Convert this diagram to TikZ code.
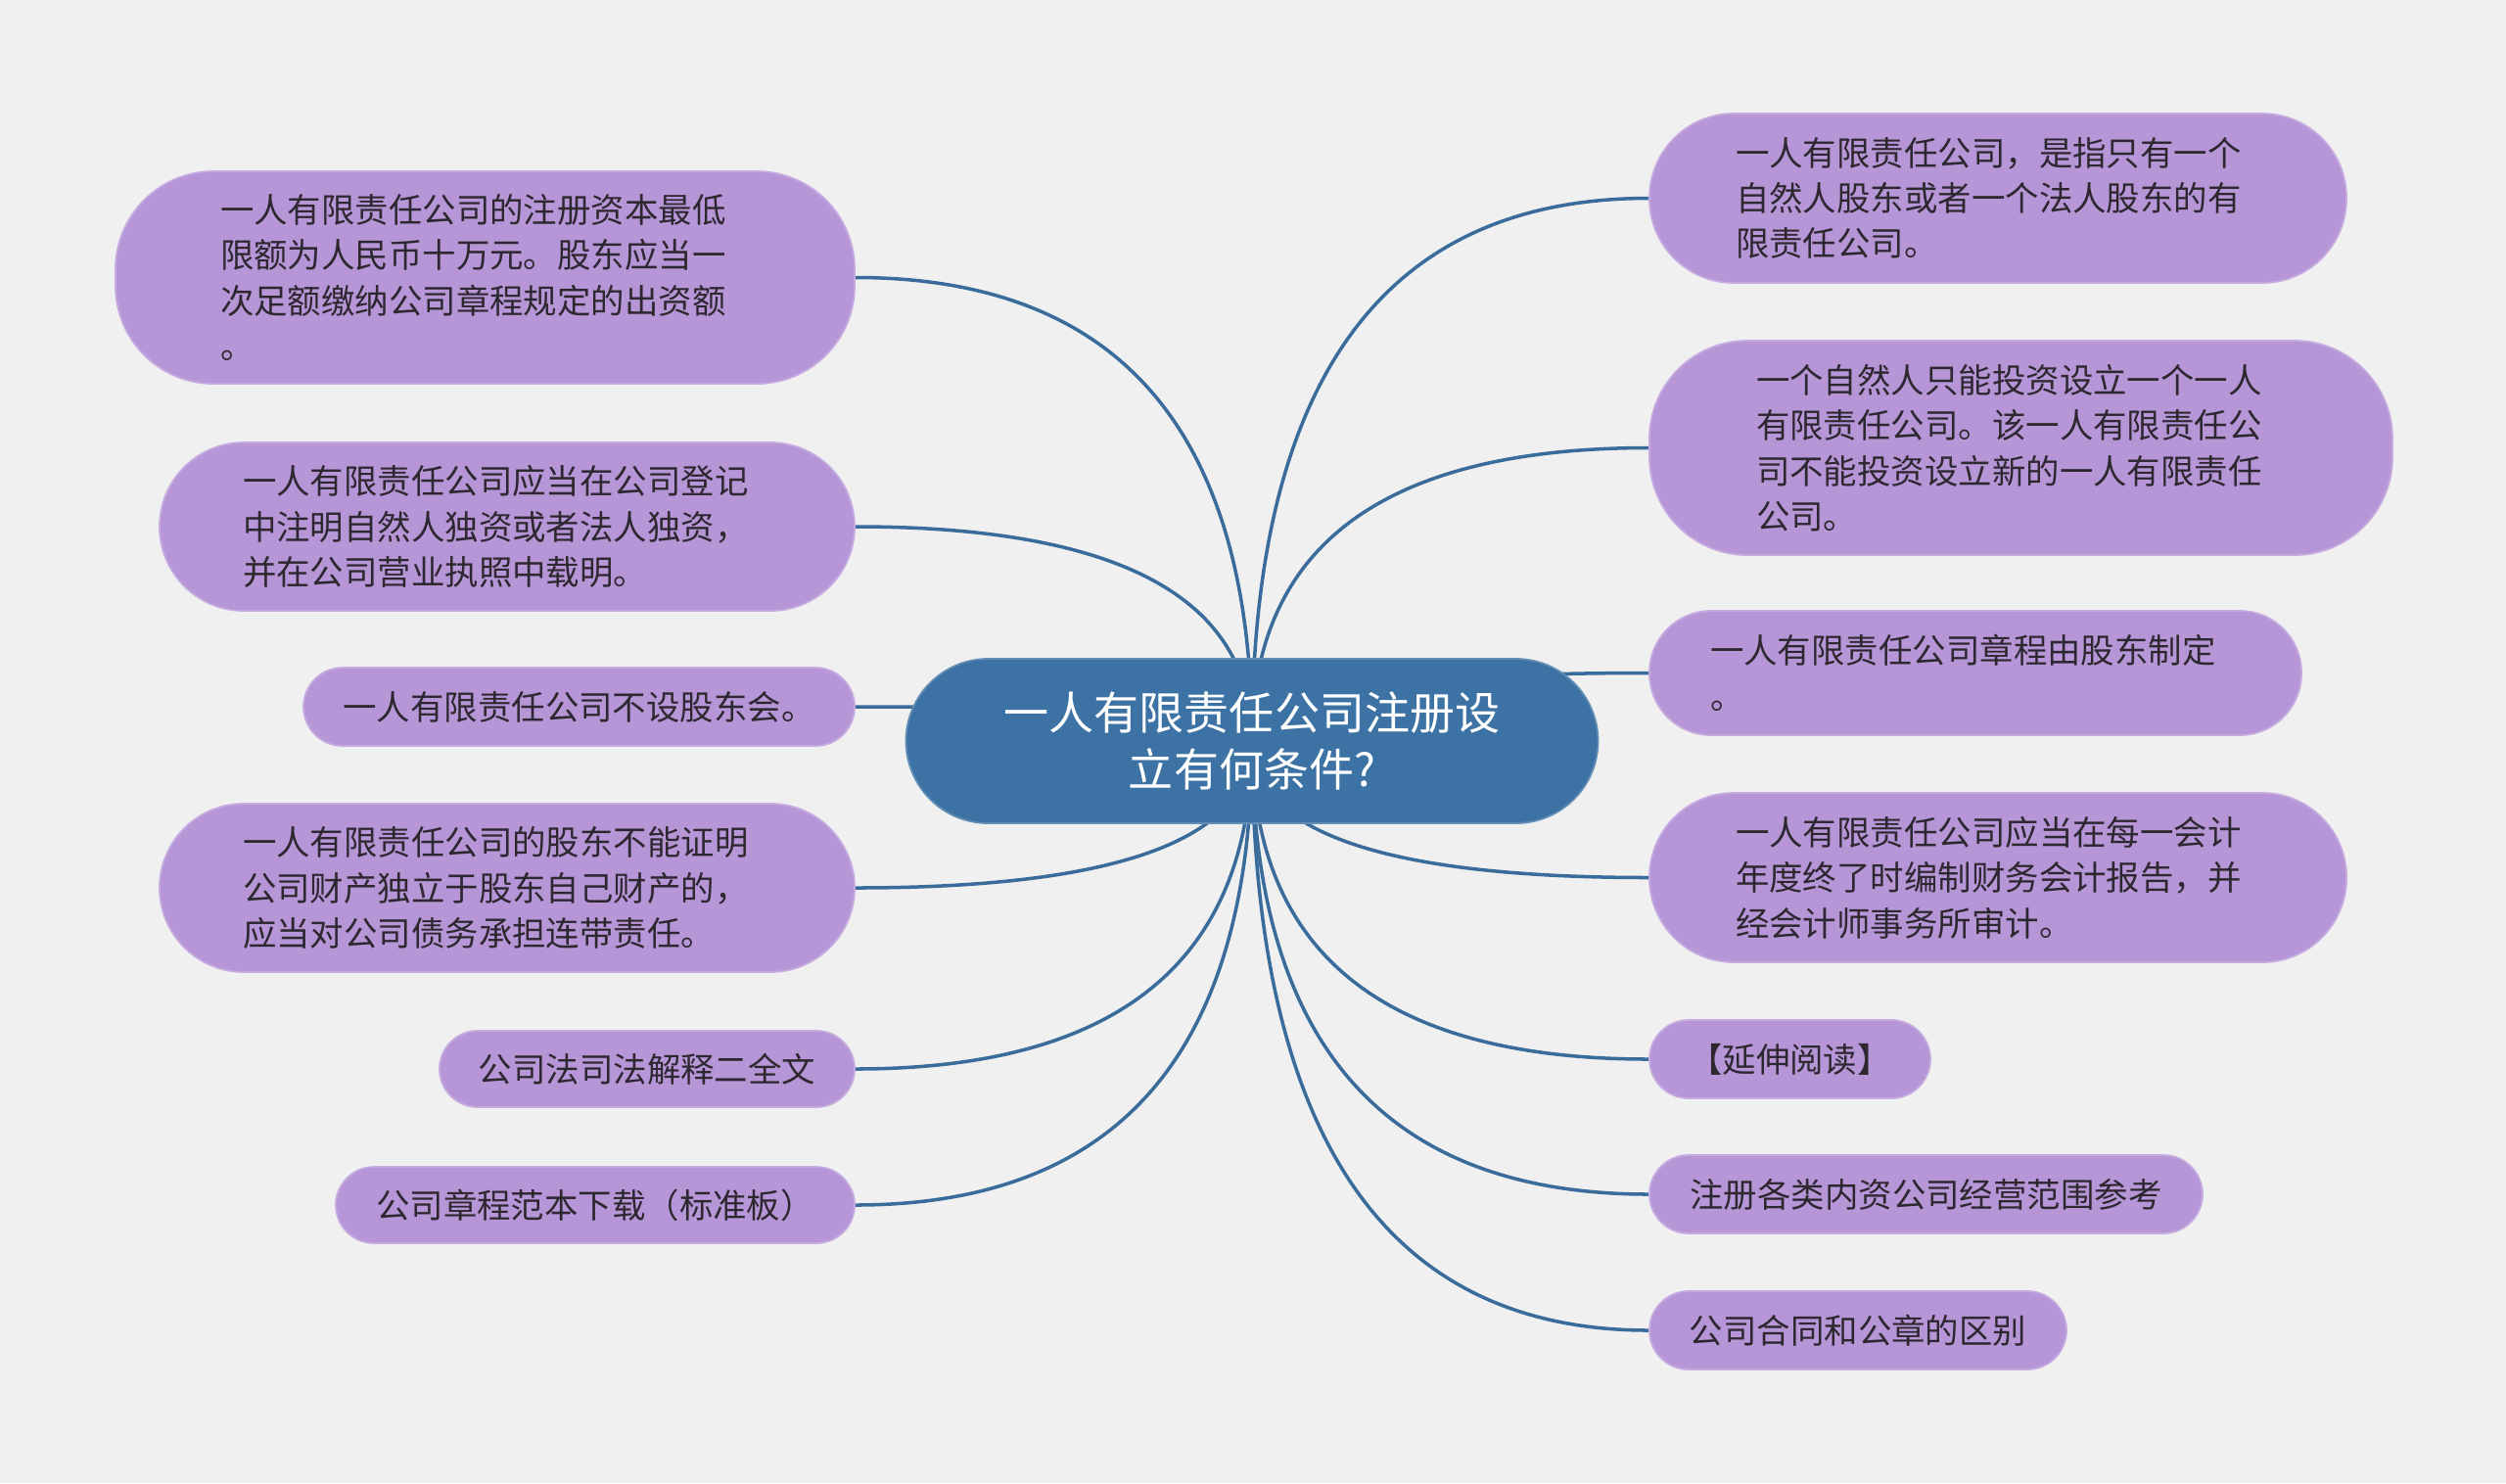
\documentclass[tikz,border=0pt]{standalone}
\usepackage{fontspec}
\newfontfamily\cjk{Noto Sans CJK SC}
\usetikzlibrary{positioning, calc, backgrounds}
\definecolor{bgc}{RGB}{240,240,240}
\definecolor{leaffill}{RGB}{183,150,216}
\definecolor{rootfill}{RGB}{60,114,164}
\definecolor{linkc}{RGB}{58,108,155}
\definecolor{inktext}{RGB}{45,40,48}

\begin{document}
\begin{tikzpicture}[
    leaf/.style={rectangle, rounded corners=#1, fill=leaffill, draw=leaffill!80!white,
                 line width=0.5pt, inner sep=0pt, text=inktext,
                 font={\cjk\fontsize{9.8pt}{13.2pt}\selectfont}},
    root/.style={rectangle, rounded corners=0.84cm, fill=rootfill, draw=rootfill!80!white,
                 line width=0.5pt, inner sep=0pt, text=white, align=center,
                 font={\cjk\fontsize{13.1pt}{16.7pt}\selectfont}},
    link/.style={draw=linkc, line width=1pt}]

    \useasboundingbox (0,0) rectangle (25.6,-15.15);

    % Centre
    \node[root, minimum width=7.07cm, minimum height=1.68cm] (root) at (12.79,-7.57)
        {一人有限责任公司注册设\\立有何条件?};

    % Left branches
    \node[leaf=1.0cm, minimum width=7.55cm, minimum height=2.17cm, text width=5.41cm, align=left] (l1) at (4.955,-2.835)
        {一人有限责任公司的注册资本最低\\限额为人民币十万元。股东应当一\\次足额缴纳公司章程规定的出资额\\。};
    \node[leaf=0.86cm, minimum width=7.10cm, minimum height=1.72cm, text width=5.40cm, align=left] (l2) at (5.18,-5.38)
        {一人有限责任公司应当在公司登记\\中注明自然人独资或者法人独资，\\并在公司营业执照中载明。};
    \node[leaf=0.4cm, minimum width=5.63cm, minimum height=0.80cm] (l3) at (5.915,-7.22)
        {一人有限责任公司不设股东会。};
    \node[leaf=0.86cm, minimum width=7.10cm, minimum height=1.72cm, text width=5.40cm, align=left] (l4) at (5.18,-9.07)
        {一人有限责任公司的股东不能证明\\公司财产独立于股东自己财产的，\\应当对公司债务承担连带责任。};
    \node[leaf=0.39cm, minimum width=4.24cm, minimum height=0.78cm] (l5) at (6.61,-10.92)
        {公司法司法解释二全文};
    \node[leaf=0.39cm, minimum width=5.30cm, minimum height=0.78cm] (l6) at (6.08,-12.31)
        {公司章程范本下载（标准板）};

    % Right branches
    \node[leaf=0.86cm, minimum width=7.12cm, minimum height=1.73cm, text width=5.36cm, align=left] (r1) at (20.41,-2.025)
        {一人有限责任公司，是指只有一个\\自然人股东或者一个法人股东的有\\限责任公司。};
    \node[leaf=1.0cm, minimum width=7.59cm, minimum height=2.19cm, text width=5.41cm, align=left] (r2) at (20.645,-4.575)
        {一个自然人只能投资设立一个一人\\有限责任公司。该一人有限责任公\\司不能投资设立新的一人有限责任\\公司。};
    \node[leaf=0.63cm, minimum width=6.66cm, minimum height=1.27cm, text width=5.42cm, align=left] (r3) at (20.18,-6.875)
        {一人有限责任公司章程由股东制定\\。};
    \node[leaf=0.86cm, minimum width=7.12cm, minimum height=1.73cm, text width=5.36cm, align=left] (r4) at (20.41,-8.965)
        {一人有限责任公司应当在每一会计\\年度终了时编制财务会计报告，并\\经会计师事务所审计。};
    \node[leaf=0.4cm, minimum width=2.87cm, minimum height=0.80cm] (r5) at (18.285,-10.82)
        {【延伸阅读】};
    \node[leaf=0.4cm, minimum width=5.65cm, minimum height=0.80cm] (r6) at (19.675,-12.20)
        {注册各类内资公司经营范围参考};
    \node[leaf=0.4cm, minimum width=4.26cm, minimum height=0.80cm] (r7) at (18.98,-13.59)
        {公司合同和公章的区别};

    % Links, behind the boxes
    \begin{scope}[on background layer]
        \fill[bgc] (0,0) rectangle (25.6,-15.15);
        \foreach \n in {l1,l2,l3,l4,l5,l6}
            \draw[link] (root.center) .. controls ($(root.center)!2/3!(root.center |- \n.east)$)
                and ($(\n.east)!2/3!(root.center |- \n.east)$) .. (\n.east);
        \foreach \n in {r1,r2,r3,r4,r5,r6,r7}
            \draw[link] (root.center) .. controls ($(root.center)!2/3!(root.center |- \n.west)$)
                and ($(\n.west)!2/3!(root.center |- \n.west)$) .. (\n.west);
    \end{scope}
\end{tikzpicture}
\end{document}
